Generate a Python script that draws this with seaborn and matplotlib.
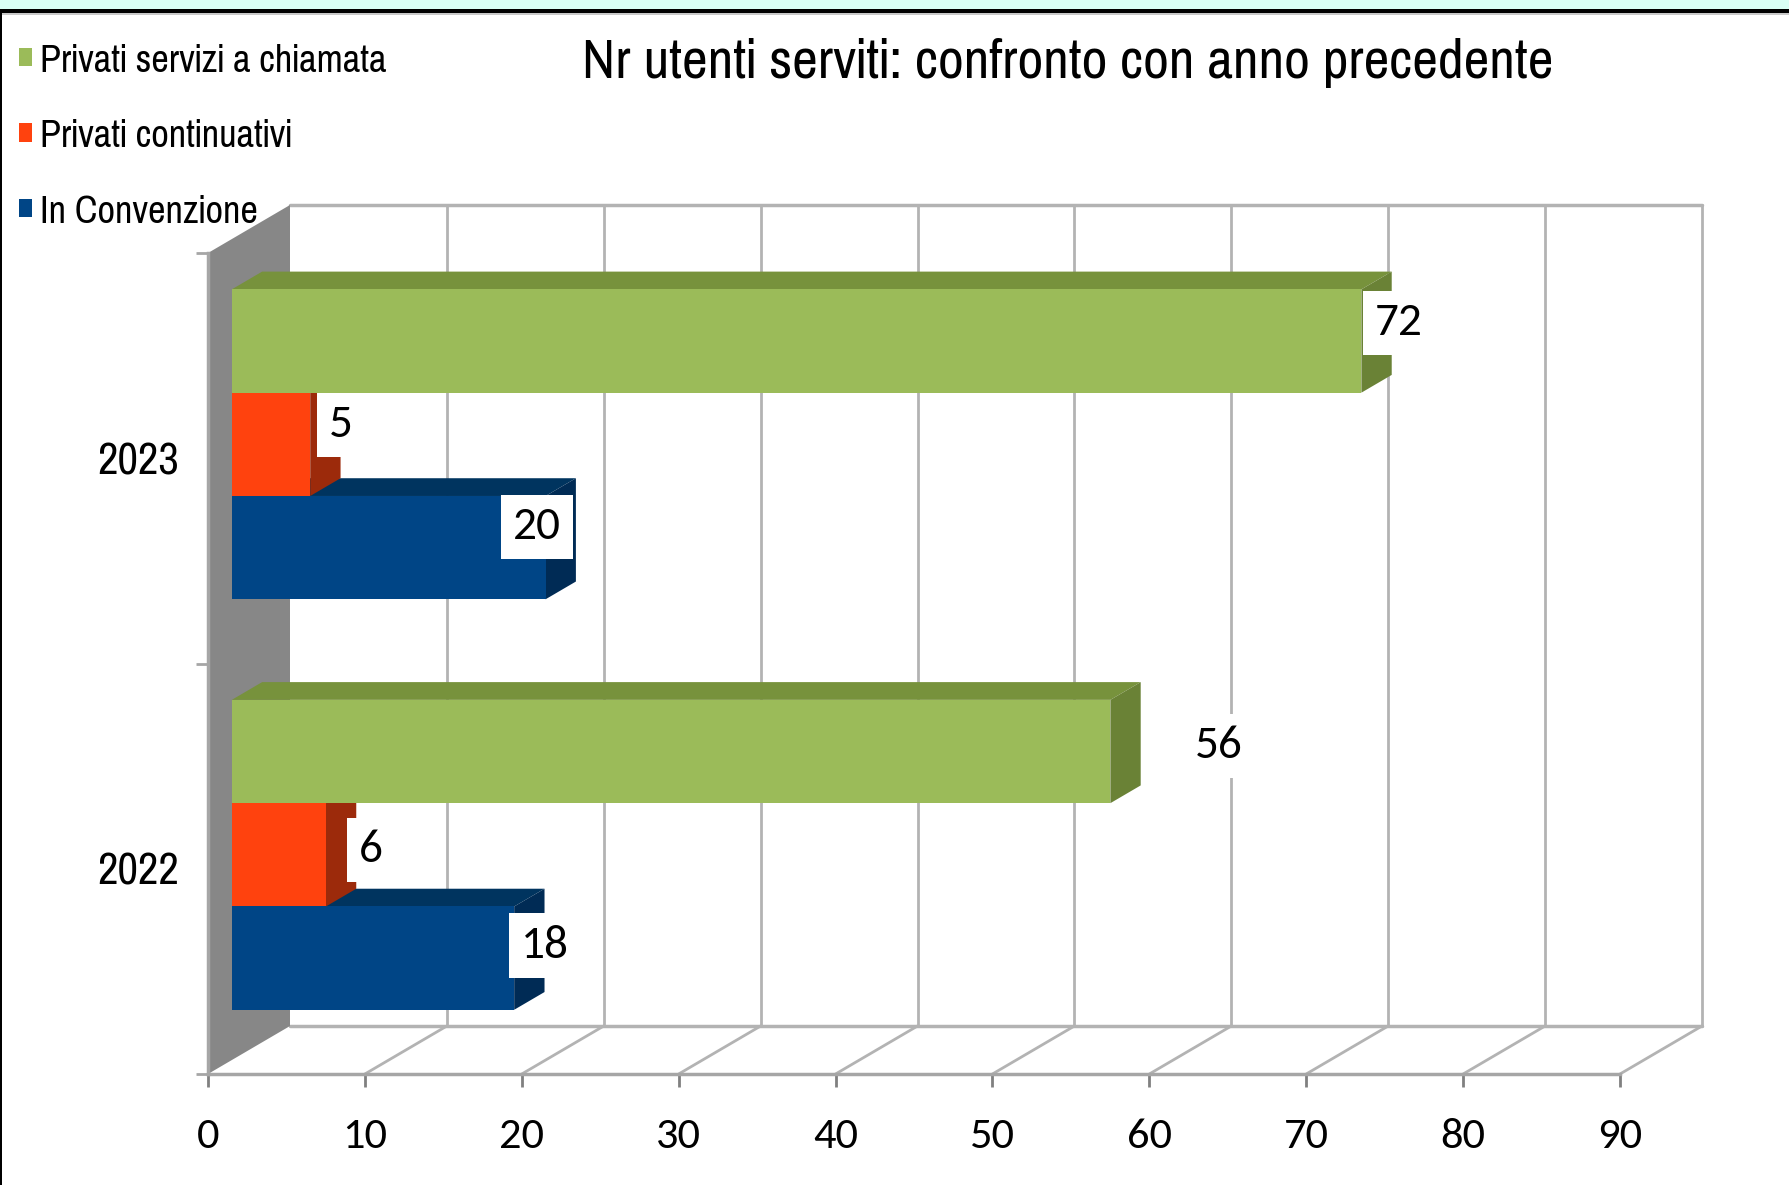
import numpy as np
import pandas as pd
import matplotlib
matplotlib.use('Agg')
import matplotlib.pyplot as plt
from matplotlib.patches import Polygon, Rectangle
import seaborn as sns

years = ['2023', '2022']
series = ['Privati servizi a chiamata', 'Privati continuativi', 'In Convenzione']
chiamata = [72, 56]
continuativi = [5, 6]
convenzione = [20, 18]
x_ticks = [0, 10, 20, 30, 40, 50, 60, 70, 80, 90]

front_col = ['#9BBB59', '#FF420E', '#004586']
top_col = ['#77923C', '#A8300C', '#00345F']
side_col = ['#6A8236', '#9C2A0B', '#002B55']

df = pd.DataFrame({
    'anno': years * 3,
    'serie': [series[0]] * 2 + [series[1]] * 2 + [series[2]] * 2,
    'utenti': chiamata + continuativi + convenzione,
})

sns.set_theme(style='white')
narrow = ['Pragati Narrow', 'Archivo Narrow', 'Roboto Condensed', 'Liberation Sans', 'DejaVu Sans']
digits = ['Carlito', 'Pragati Narrow', 'Archivo Narrow', 'Liberation Sans', 'DejaVu Sans']
plt.rcParams['font.family'] = narrow
plt.rcParams['text.color'] = 'black'
plt.rcParams['xtick.color'] = 'black'
plt.rcParams['ytick.color'] = 'black'

W, H = 1789, 1185
fig = plt.figure(figsize=(W / 100, H / 100), dpi=100)
fig.patch.set_facecolor('white')

# front plane of the fake 3d box
ax = fig.add_axes([208 / W, 1 - 1074 / H, 1412 / W, 821 / H])
ax.set_facecolor('none')

sns.barplot(data=df, y='anno', x='utenti', hue='serie', order=years, hue_order=series,
            palette=front_col, saturation=1, width=0.755, orient='h', linewidth=0, ax=ax)

ax.set_xlim(0, 90)
ax.set_ylim(1.5, -0.5)
ax.set_xlabel('')
ax.set_ylabel('')

# depth vector in data units
DX = 82 / (1412 / 90)
DY = 48 / (821 / 2)
f1, f2 = 0.29, 0.66
d = f2 - f1

grid_c = '#B3B3B3'
# left wall
ax.add_patch(Polygon([(0, -0.5), (0, 1.5), (DX, 1.5 - DY), (DX, -0.5 - DY)],
                     closed=True, fc='#878787', ec='none', zorder=1, clip_on=False))
# back wall grid and frame
for v in x_ticks[1:]:
    ax.plot([v + DX, v + DX], [1.5 - DY, -0.5 - DY], color=grid_c, lw=2, zorder=0.5, clip_on=False)
    ax.plot([v, v + DX], [1.5, 1.5 - DY], color=grid_c, lw=2, zorder=0.5, clip_on=False)
ax.plot([DX, 90 + DX], [-0.5 - DY, -0.5 - DY], color=grid_c, lw=2.5, zorder=0.5, clip_on=False)
ax.plot([DX, 90 + DX], [1.5 - DY, 1.5 - DY], color=grid_c, lw=2.5, zorder=0.5, clip_on=False)

# bars: shift front faces and add top / side faces
lab_dx = [[27, 78], [22, 32], [-6, 22]]
lab_dy = [[13, 4], [14, 3.5], [15, 9]]
for i, cont in enumerate(ax.containers):
    base = 10 - 2 * i
    for j, bar in enumerate(cont):
        bar.set_x(bar.get_x() + f1 * DX)
        bar.set_y(bar.get_y() - f1 * DY)
        bar.set_zorder(base)
        x0 = bar.get_x()
        x1 = x0 + bar.get_width()
        yt = bar.get_y()
        yb = yt + bar.get_height()
        ax.add_patch(Polygon([(x0, yt), (x1, yt), (x1 + d * DX, yt - d * DY), (x0 + d * DX, yt - d * DY)],
                             closed=True, fc=top_col[i], ec='none', zorder=base - 0.5, clip_on=False))
        ax.add_patch(Polygon([(x1, yt), (x1, yb), (x1 + d * DX, yb - d * DY), (x1 + d * DX, yt - d * DY)],
                             closed=True, fc=side_col[i], ec='none', zorder=base - 0.5, clip_on=False))
        ax.annotate(str(int(bar.get_width())), xy=(x1, (yt + yb) / 2),
                    xytext=(lab_dx[i][j], lab_dy[i][j]), textcoords='offset points',
                    ha='center', va='center', fontsize=34, family=digits, color='black', zorder=12,
                    bbox=dict(boxstyle='square,pad=0.25', fc='white', ec='none'))

# axes lines and ticks
for s in ['top', 'right']:
    ax.spines[s].set_visible(False)
for s in ['bottom', 'left']:
    ax.spines[s].set_color('#A6A6A6')
    ax.spines[s].set_linewidth(2.5)
    ax.spines[s].set_zorder(2)

ax.set_xticks(x_ticks)
ax.set_xticklabels([str(v) for v in x_ticks], family=digits)
ax.tick_params(axis='x', length=9, width=2, color='#808080', labelsize=32, pad=23, bottom=True)
ax.set_yticks([0, 1])
ax.set_yticklabels(years)
ax.set_yticks([-0.5, 0.5, 1.5], minor=True)
ax.tick_params(axis='y', which='major', length=0, labelsize=35, pad=21, left=True)
ax.tick_params(axis='y', which='minor', length=9, width=2, color='#A6A6A6', left=True)

# legend
sns.move_legend(ax, loc='upper left', bbox_to_anchor=(19 / W, 1 - 44 / H),
                bbox_transform=fig.transFigure, frameon=False, title=None,
                fontsize=30, handlelength=0.3, handleheight=0.3, handletextpad=0.2,
                labelspacing=0.97, borderpad=0, borderaxespad=0)

fig.text(1068 / W, 1 - 78 / H, 'Nr utenti serviti: confronto con anno precedente',
         ha='center', va='baseline', fontsize=44, color='black')

# frame strip at the top and left border
fig.add_artist(Rectangle((0, 1 - 9 / H), 1, 9 / H, transform=fig.transFigure, fc='#D9FFF5', ec='none'))
fig.add_artist(Rectangle((0, 1 - 13 / H), 1, 4 / H, transform=fig.transFigure, fc='black', ec='none'))
fig.add_artist(Rectangle((0, 1 - 15 / H), 1, 2 / H, transform=fig.transFigure, fc='#C8C8C8', ec='none'))
fig.add_artist(Rectangle((0, 0), 2 / W, 1 - 9 / H, transform=fig.transFigure, fc='black', ec='none'))

fig.savefig('out.png', dpi=100)
